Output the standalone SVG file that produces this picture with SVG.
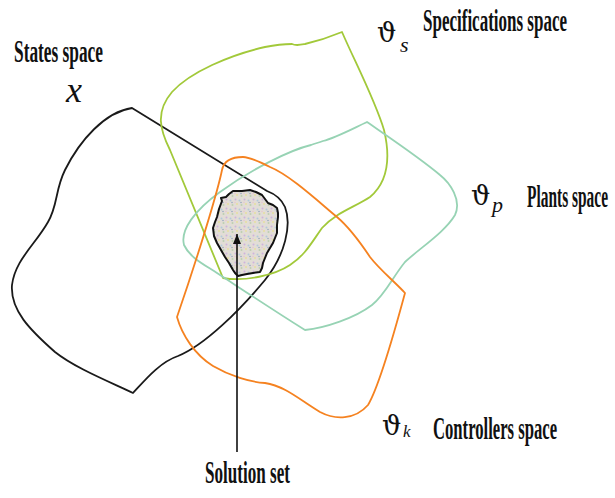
<svg xmlns="http://www.w3.org/2000/svg" width="615" height="498" viewBox="0 0 615 498">
<style>
.lbl{font-family:"Liberation Serif","Times New Roman",serif;font-weight:bold;font-size:32px;fill:#111}
.sym{font-family:"DejaVu Serif","Liberation Serif",serif;font-size:27px;fill:#111}
.sub{font-family:"Liberation Serif","Times New Roman",serif;font-style:italic;fill:#111}
.reg{fill:none;stroke-width:1.8;stroke-linejoin:round}
</style>
<defs>
<pattern id="speck" width="9" height="9" patternUnits="userSpaceOnUse">
<rect width="9" height="9" fill="#e2ddd6"/>
<circle cx="1.5" cy="1.5" r="1" fill="#cfb2dd"/>
<circle cx="5.5" cy="2.5" r="1" fill="#b2cadb"/>
<circle cx="3" cy="6" r="1" fill="#e6df9e"/>
<circle cx="7.5" cy="7" r="1" fill="#bcd0b0"/>
<circle cx="7" cy="4.5" r="0.8" fill="#98a8c0"/>
<circle cx="1" cy="4.5" r="0.8" fill="#e8c6ce"/>
</pattern>
<marker id="arrow" markerUnits="userSpaceOnUse" markerWidth="10" markerHeight="10" refX="10" refY="4" orient="auto">
<path d="M0,0 L10,4 L0,8 Z" fill="#111"/>
</marker>
</defs>
<rect width="615" height="498" fill="#fff"/>
<g id="states">
<path class="reg" stroke="#1a1a1a" d="M132,108 C105,112 80,140 65,170 C55,190 58,205 48,222 C35,245 15,260 12,285 C10,310 30,330 55,352 C75,368 110,382 133,393 C145,380 160,362 178,356 C205,345 240,310 265,280 C285,255 292,225 285,207 C281,198 275,194 267,191 L132,108 Z"/>
<text class="sub" x="66" y="102" font-size="36">x</text>
<text class="lbl" transform="translate(14,62) scale(0.541,1)" textLength="164.5" lengthAdjust="spacingAndGlyphs">States space</text>
</g>
<g id="specifications">
<path class="reg" stroke="#a2c93a" d="M342,32 C355,62 375,100 384,130 C390,155 390,180 370,197 C355,207 335,213 322,228 C310,245 305,255 290,265 C275,275 245,282 223,278 L170,150 C160,130 155,112 172,92 C190,72 230,55 265,47 C280,44 288,44 292,44 C296,46 300,45 305,44 C318,41 330,37 342,32 Z"/>
<text class="sym" x="377" y="42">ϑ</text>
<text class="sub" x="400" y="52" font-size="22">s</text>
<text class="lbl" transform="translate(423,31) scale(0.531,1)" textLength="271.2" lengthAdjust="spacingAndGlyphs">Specifications space</text>
</g>
<g id="plants">
<path class="reg" stroke="#97d3b4" d="M367,122 C350,130 335,138 323,141 C318,143 316,143 311,145 C290,150 250,170 220,192 C195,210 180,230 184,245 C190,258 205,265 217,273 C240,288 270,308 305,330 C325,328 355,318 372,305 C385,295 392,278 405,262 C420,248 445,232 455,215 C462,200 450,183 440,175 C420,158 390,138 367,122 Z"/>
<text class="sym" x="471" y="205">ϑ</text>
<text class="sub" x="492" y="212" font-size="22">p</text>
<text class="lbl" transform="translate(527,207) scale(0.482,1)" textLength="168" lengthAdjust="spacingAndGlyphs">Plants space</text>
</g>
<g id="controllers">
<path class="reg" stroke="#f58220" d="M243,157 C232,157 224,160 222,170 C218,190 200,250 177,317 C182,335 195,355 213,366 C230,376 250,382 265,383 C285,386 300,400 320,412 C335,420 355,420 368,405 C380,385 395,330 405,293 C395,282 380,270 370,257 C360,242 350,228 337,217 C320,203 290,175 270,167 C260,162 250,157 243,157 Z"/>
<text class="sym" x="382" y="435">ϑ</text>
<text class="sub" x="403" y="437" font-size="17">k</text>
<text class="lbl" transform="translate(433,439) scale(0.519,1)" textLength="239" lengthAdjust="spacingAndGlyphs">Controllers space</text>
</g>
<g id="solution">
<path fill="url(#speck)" stroke="#111" stroke-width="2" stroke-linejoin="round" d="M222,201 L221,198 L226,197 L229,194 L233,191 L242,191 L250,190 L256,192 L262,195 L265,199 L268,203 L273,205 L277,208 L278,213 L278,217 L277,225 L277,233 L275,238 L273,243 L270,248 L267,253 L265,258 L263,263 L262,268 L260,272 L253,273 L247,274 L242,275 L238,276 L235,273 L233,270 L229,263 L225,257 L221,250 L217,243 L214,236 L213,228 L215,222 L217,217 L219,209 Z"/>
<text class="lbl" transform="translate(205,483) scale(0.534,1)" textLength="159" lengthAdjust="spacingAndGlyphs">Solution set</text>
</g>
<g id="connectors">
<line x1="237" y1="452" x2="237" y2="234" stroke="#111" stroke-width="1.6" marker-end="url(#arrow)"/>
</g>
</svg>
